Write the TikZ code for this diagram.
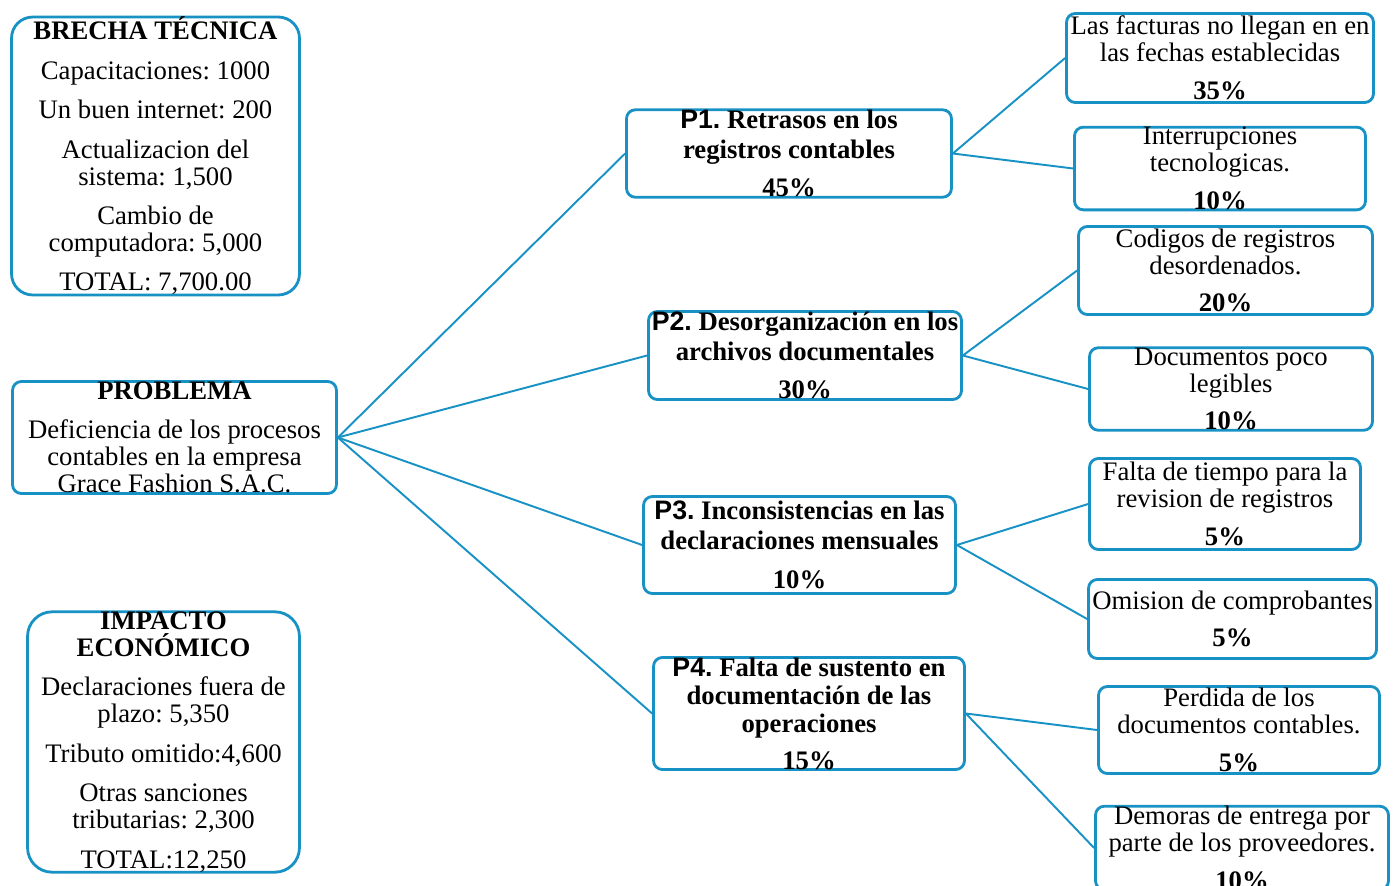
\documentclass[tikz,border=0pt]{standalone}
\usepackage{fontspec}
\setmainfont{Liberation Serif}
\newfontfamily\arialfont{Liberation Sans}
\usetikzlibrary{positioning}
\definecolor{borde}{RGB}{24,146,196}
\frenchspacing

\tikzset{
    caja/.style={draw=borde, line width=1.6pt, rounded corners=5pt, align=center,
        inner sep=0pt, fill=white, font=\fontsize{15.2}{15.4}\selectfont},
    cajagrande/.style={caja, rounded corners=12pt},
    titulo/.style={caja, font=\fontsize{15.2}{17}\selectfont\bfseries},
    rama/.style={draw=borde, line width=1.1pt},
}

\begin{document}
\begin{tikzpicture}[x=0.02cm, y=-0.02cm]
        \useasboundingbox (0,0) rectangle (1397,886);

        % cuadros de la izquierda
        \node[cajagrande, minimum width=5.76cm, minimum height=5.54cm] (brecha) at (155.5,156) {%
            \textbf{BRECHA TÉCNICA}\\[7pt]
            Capacitaciones: 1000\\[7pt]
            Un buen internet: 200\\[7pt]
            Actualizacion del\\ sistema: 1,500\\[7pt]
            Cambio de\\ computadora: 5,000\\[7pt]
            TOTAL: 7,700.00};

        \node[caja, minimum width=6.48cm, minimum height=2.24cm] (problema) at (174.5,437.5) {%
            \textbf{PROBLEMA}\\[7pt]
            Deficiencia de los procesos\\ contables en la empresa\\ Grace Fashion S.A.C.};

        \node[cajagrande, rounded corners=14pt, minimum width=5.44cm, minimum height=5.18cm] (impacto) at (163.5,742) {%
            \textbf{IMPACTO}\\ \textbf{ECONÓMICO}\\[7pt]
            Declaraciones fuera de\\ plazo: 5,350\\[7pt]
            Tributo omitido:4,600\\[7pt]
            Otras sanciones\\ tributarias: 2,300\\[7pt]
            TOTAL:12,250};

        % problemas principales
        \node[titulo, minimum width=6.5cm, minimum height=1.68cm] (p1) at (789,153.5) {%
            {\arialfont P1.}\ Retrasos en los\\ registros contables\\[5pt] 45\%};
        \node[titulo, minimum width=6.26cm, minimum height=1.76cm] (p2) at (805,355.5) {%
            {\arialfont P2.}\ Desorganización en los\\ archivos documentales\\[5pt] 30\%};
        \node[titulo, minimum width=6.24cm, minimum height=1.94cm] (p3) at (799.5,545) {%
            {\arialfont P3.}\ Inconsistencias en las\\ declaraciones mensuales\\[5pt] 10\%};
        \node[titulo, font=\fontsize{15.2}{16}\selectfont\bfseries, minimum width=6.22cm, minimum height=2.08cm] (p4) at (809,713.5) {%
            {\arialfont P4.}\ Falta de sustento en\\ documentación de las\\ operaciones\\[5pt] 15\%};

        % causas
        \node[caja, minimum width=6.14cm, minimum height=1.78cm] (c1) at (1220,58) {%
            Las facturas no llegan en en\\ las fechas establecidas\\[6pt] \textbf{35\%}};
        \node[caja, minimum width=5.82cm, minimum height=1.6cm] (c2) at (1220,168.5) {%
            Interrupciones\\ tecnologicas.\\[6pt] \textbf{10\%}};
        \node[caja, minimum width=5.88cm, minimum height=1.76cm] (c3) at (1225.5,270.5) {%
            Codigos de registros\\ desordenados.\\[6pt] \textbf{20\%}};
        \node[caja, minimum width=5.66cm, minimum height=1.62cm] (c4) at (1231,389) {%
            Documentos poco\\ legibles\\[6pt] \textbf{10\%}};
        \node[caja, minimum width=5.42cm, minimum height=1.82cm] (c5) at (1225,504) {%
            Falta de tiempo para la\\ revision de registros\\[6pt] \textbf{5\%}};
        \node[caja, minimum width=5.76cm, minimum height=1.58cm] (c6) at (1232.5,619) {%
            Omision de comprobantes\\[6pt] \textbf{5\%}};
        \node[caja, minimum width=5.62cm, minimum height=1.74cm] (c7) at (1239,730) {%
            Perdida de los\\ documentos contables.\\[6pt] \textbf{5\%}};
        \node[caja, minimum width=5.86cm, minimum height=1.6cm] (c8) at (1242,848) {%
            Demoras de entrega por\\ parte de los proveedores.\\[6pt] \textbf{10\%}};

        % ramas
        \foreach \p in {p1,p2,p3,p4}
            \draw[rama] (problema.east) -- (\p.west);
        \foreach \p/\c in {p1/c1, p1/c2, p2/c3, p2/c4, p3/c5, p3/c6, p4/c7, p4/c8}
            \draw[rama] (\p.east) -- (\c.west);

\end{tikzpicture}
\end{document}
